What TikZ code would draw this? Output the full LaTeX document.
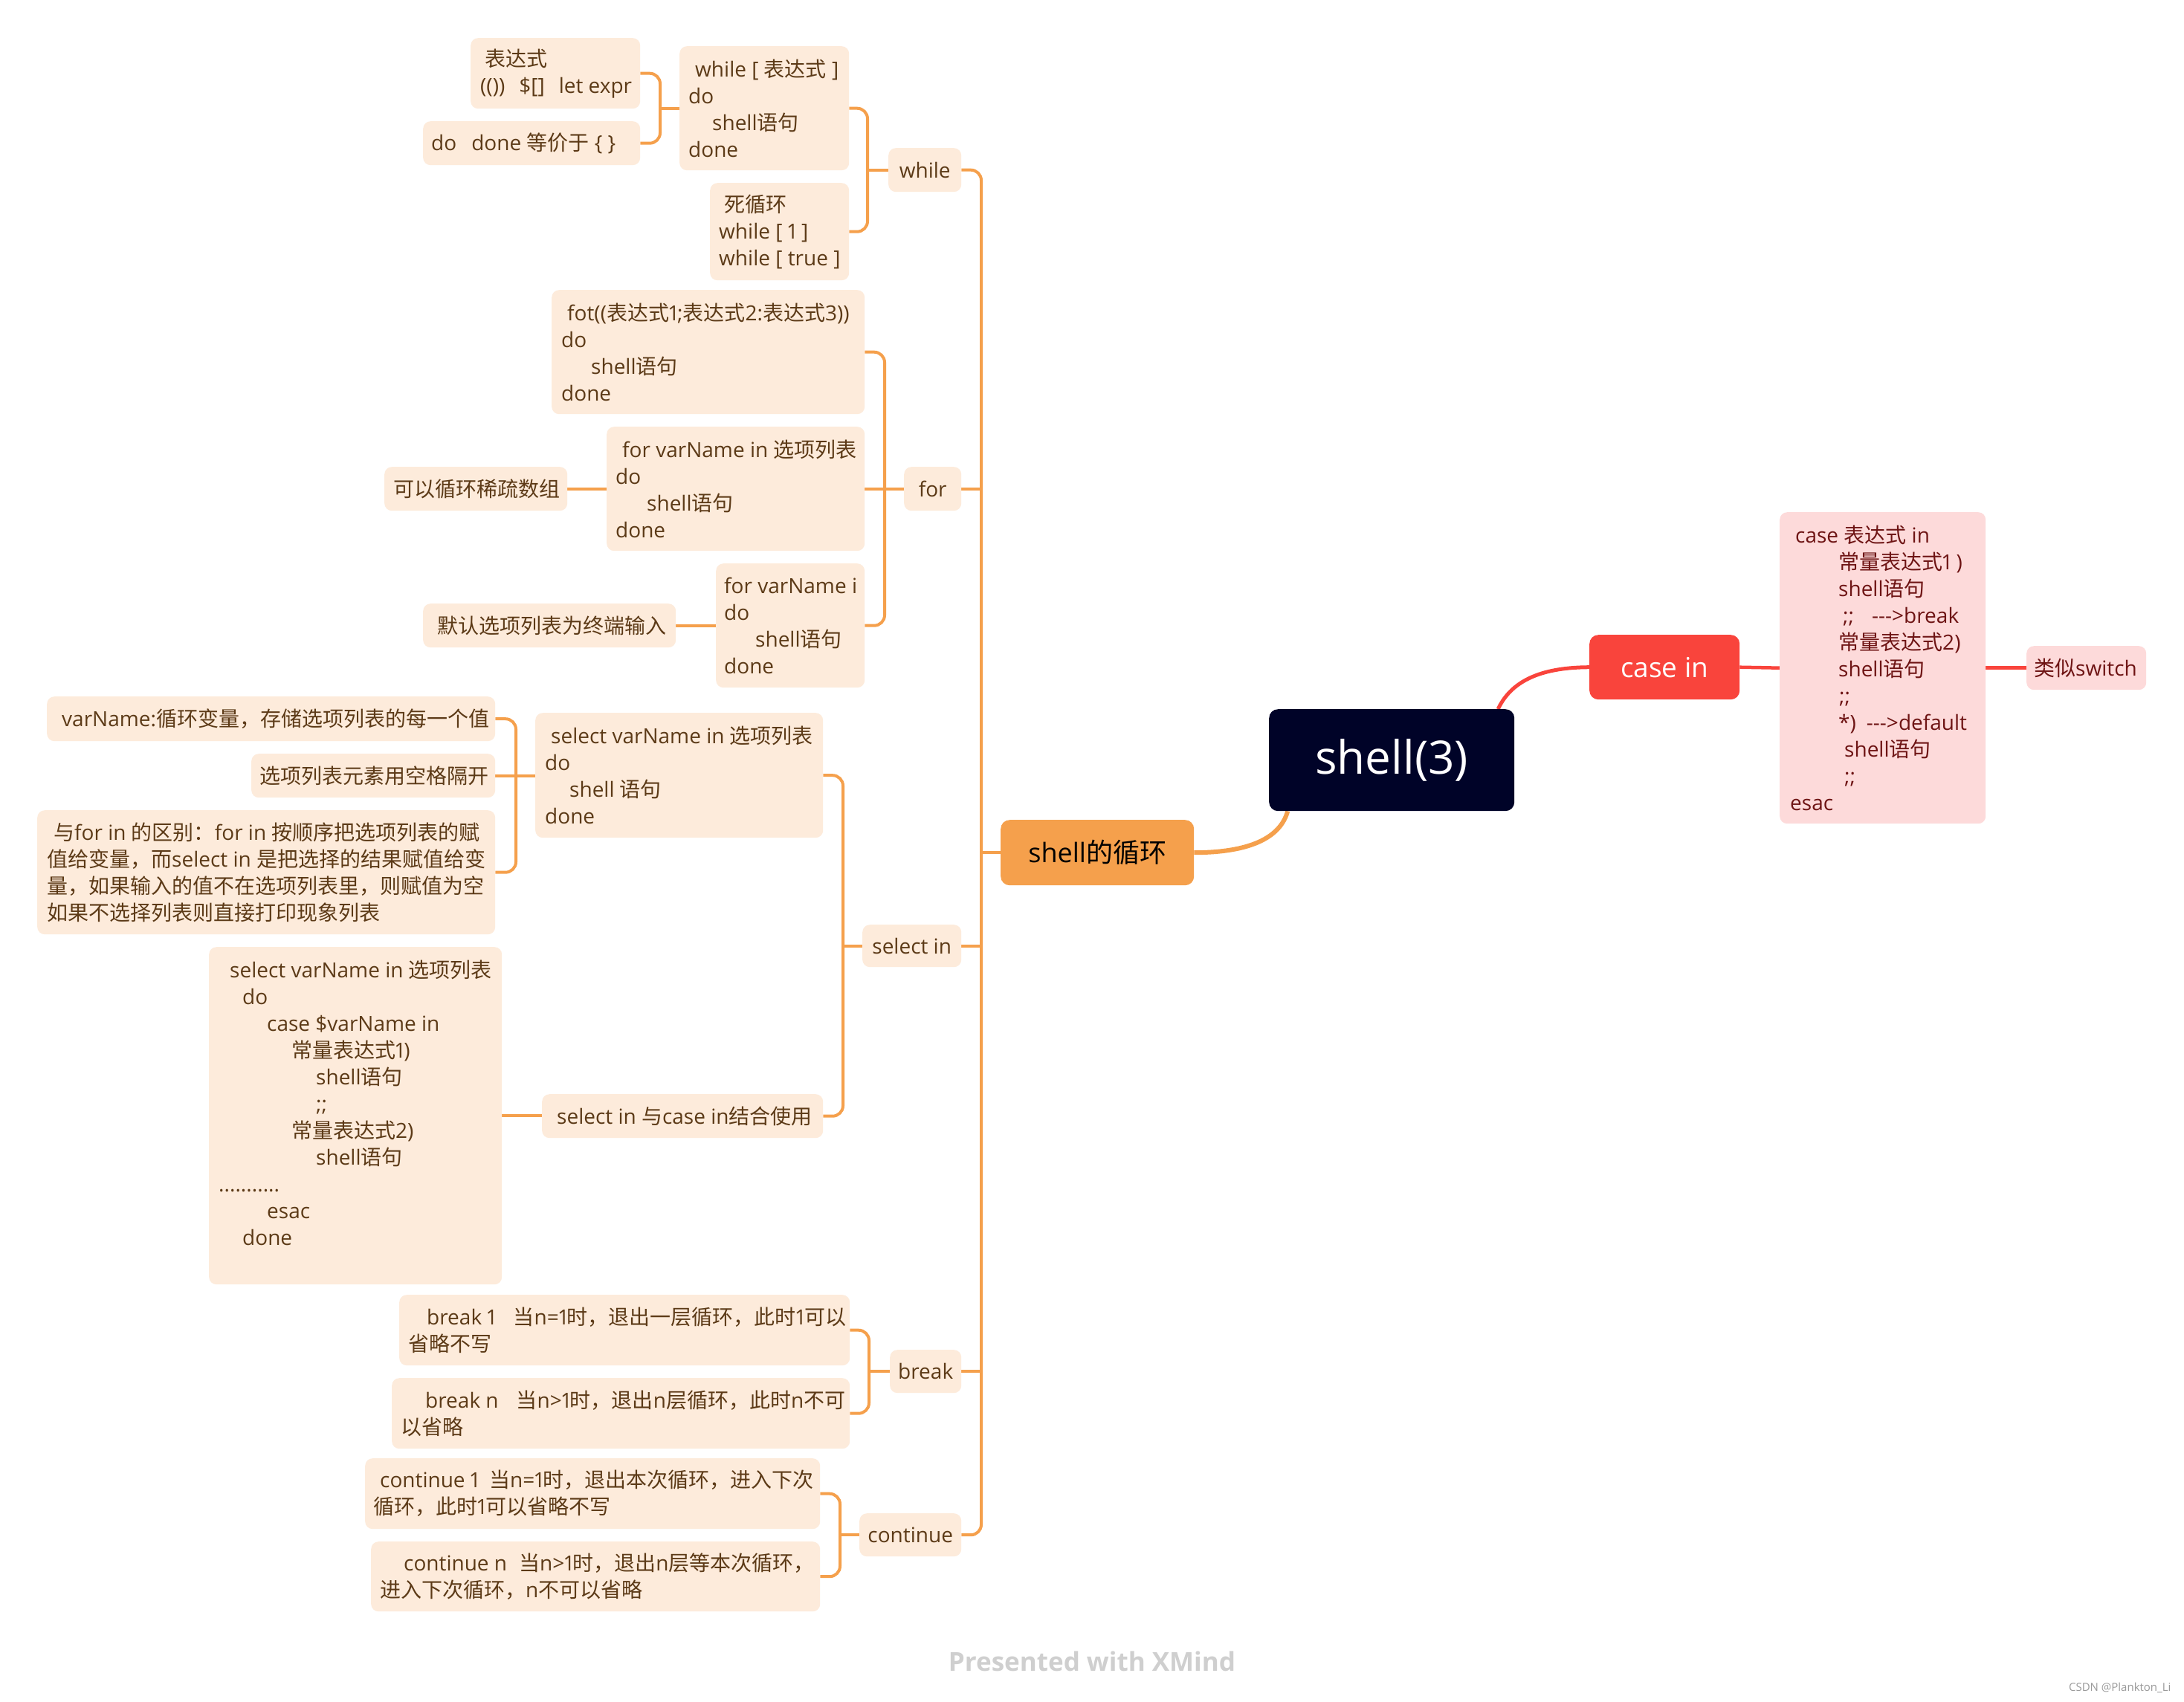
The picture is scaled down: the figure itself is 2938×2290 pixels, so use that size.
\documentclass[tikz,border=0pt]{standalone}
\usepackage{fontspec}
\setmainfont{Open Sans}[Numbers=Proportional]
\newfontfamily\cjkf{Noto Sans CJK SC}
\newfontfamily\latf{Open Sans}[Numbers=Proportional]
\XeTeXinterchartokenstate=1
\newXeTeXintercharclass\cjkclass
\count255="2E80
\loop\XeTeXcharclass\count255=\cjkclass\advance\count255 by 1 \ifnum\count255<"A000 \repeat
\count255="FF00
\loop\XeTeXcharclass\count255=\cjkclass\advance\count255 by 1 \ifnum\count255<"FFF0 \repeat
\XeTeXinterchartoks 0 \cjkclass = {\cjkf}
\XeTeXinterchartoks \cjkclass 0 = {\latf}
\XeTeXinterchartoks 4095 \cjkclass = {\cjkf}
\XeTeXinterchartoks \cjkclass 4095 = {\latf}
\usetikzlibrary{backgrounds}
\definecolor{bfill}{HTML}{FDEBDB}
\definecolor{btext}{HTML}{5C3A17}
\definecolor{ora}{HTML}{F5A04C}
\definecolor{redc}{HTML}{F9443C}
\definecolor{pfill}{HTML}{FDDADA}
\definecolor{ptext}{HTML}{6E1414}
\definecolor{navy}{HTML}{000328}
\definecolor{footgrey}{HTML}{CFCFCF}
\definecolor{csdngrey}{HTML}{9A9A9A}
\begin{document}
\begin{tikzpicture}[x=1pt,y=-1pt,
  box/.style={fill=bfill, rounded corners=10pt, inner sep=0pt, anchor=north west},
  pbox/.style={box, fill=pfill},
  sz/.style 2 args={minimum width=#1pt, minimum height=#2pt},
  txt/.style={anchor=west, align=left, inner sep=0pt, text=btext, font=\fontsize{28}{36}\selectfont},
  ptxt/.style={txt, text=ptext},
  topic/.style={box, text=btext, font=\fontsize{28}{36}\selectfont},
  conn/.style={draw=ora, line width=4pt, rounded corners=14pt},
  redconn/.style={draw=redc, line width=4.5pt},
  bigconn/.style={draw=ora, line width=6pt},
  bigred/.style={draw=redc, line width=5pt}]
\useasboundingbox (0,0) rectangle (2938,2290);

% main topics
\node[box, fill=navy, rounded corners=12pt, sz={330}{137}, text=white, font=\fontsize{62}{70}\selectfont] (root) at (1707,954) {shell(3)};
\node[box, fill=ora, rounded corners=12pt, sz={260}{88}, text=black, font=\fontsize{36}{42}\selectfont] (loop) at (1346,1103) {shell的循环};
\node[box, fill=redc, rounded corners=12pt, sz={202}{87}, text=white, font=\fontsize{37}{42}\selectfont] (ci) at (2138,854) {case in};

% level 2
\node[topic, sz={98}{59}] (w0) at (1195,199) {while};
\node[topic, sz={77}{59}] (f0) at (1216,628) {for};
\node[topic, sz={133}{57}] (s0) at (1160,1244) {select in};
\node[topic, sz={96}{58}] (b0) at (1197,1816) {break};
\node[topic, sz={137}{58}] (c0) at (1156,2036) {continue};

% while children
\node[box, sz={228}{167}] (w1) at (914,62) {};
\node[txt] (w1t) at ([xshift=12pt]w1.west) {\hspace*{9pt}while [ 表达式 ]\\do\\\hspace*{32pt}shell语句\\done};
\node[box, sz={187}{131}] (w2) at (955,246) {};
\node[txt] (w2t) at ([xshift=12pt]w2.west) {\hspace*{7pt}死循环\\while [ 1 ]\\while [ true ]};
\node[box, sz={228}{95}] (w11) at (633,51) {};
\node[txt] (w11t) at ([xshift=13pt]w11.west) {\hspace*{6pt}表达式\\(())\hspace{19pt}\$[]\hspace{19pt}let expr};
\node[box, sz={292}{59}] (w12) at (569,163) {};
\node[txt] (w12t) at ([xshift=11pt]w12.west) {do\hspace{20pt}done 等价于 \{ \}};

% for children
\node[box, sz={421}{167}] (f1) at (742,390) {};
\node[txt] (f1t) at ([xshift=13pt]f1.west) {\hspace*{8pt}fot((表达式1;表达式2:表达式3))\\do\\\hspace*{40pt}shell语句\\done};
\node[box, sz={347}{167}] (f2) at (816,574) {};
\node[txt] (f2t) at ([xshift=12pt]f2.west) {\hspace*{9pt}for varName in 选项列表\\do\\\hspace*{42pt}shell语句\\done};
\node[box, sz={246}{59}] (f21) at (517,628) {};
\node[txt] (f21t) at ([xshift=12pt]f21.west) {可以循环稀疏数组};
\node[box, sz={200}{167}] (f3) at (963,758) {};
\node[txt] (f3t) at ([xshift=11pt]f3.west) {for varName i\\do\\\hspace*{42pt}shell语句\\done};
\node[box, sz={340}{59}] (f31) at (569,812) {};
\node[txt] (f31t) at ([xshift=19pt]f31.west) {默认选项列表为终端输入};

% select children
\node[box, sz={387}{168}] (s1) at (720,959) {};
\node[txt] (s1t) at ([xshift=13pt]s1.west) {\hspace*{8pt}select varName in 选项列表\\do\\\hspace*{33pt}shell 语句\\done};
\node[box, sz={603}{60}] (s11) at (63,937) {};
\node[txt] (s11t) at ([xshift=20pt]s11.west) {varName:循环变量，存储选项列表的每一个值};
\node[box, sz={328}{59}] (s12) at (338,1014) {};
\node[txt] (s12t) at ([xshift=11pt]s12.west) {选项列表元素用空格隔开};
\node[box, sz={616}{167}] (s13) at (50,1090) {};
\node[txt] (s13t) at ([xshift=13pt]s13.west) {\hspace*{9pt}与for in 的区别：for in 按顺序把选项列表的赋\\值给变量，而select in 是把选择的结果赋值给变\\量，如果输入的值不在选项列表里，则赋值为空\\如果不选择列表则直接打印现象列表};
\node[box, sz={378}{59}] (s2) at (729,1472) {};
\node[txt] (s2t) at ([xshift=20pt]s2.west) {select in 与case in结合使用};
\node[box, sz={394}{454}] (s21) at (281,1274) {};
\node[txt, anchor=north west] (s21t) at ([xshift=13pt,yshift=-18pt]s21.north west) {\hspace*{15pt}select varName in 选项列表\\\hspace*{32pt}do\\\hspace*{65pt}case \$varName in\\\hspace*{98pt}常量表达式1)\\\hspace*{131pt}shell语句\\\hspace*{131pt};;\\\hspace*{98pt}常量表达式2)\\\hspace*{131pt}shell语句\\...........\\\hspace*{65pt}esac\\\hspace*{32pt}done};

% break children
\node[box, sz={606}{95}] (b1) at (537,1742) {};
\node[txt] (b1t) at ([xshift=12pt]b1.west) {\hspace*{25pt}break 1\hspace{24pt}当n=1时，退出一层循环，此时1可以\\省略不写};
\node[box, sz={616}{95}] (b2) at (527,1854) {};
\node[txt] (b2t) at ([xshift=12pt]b2.west) {\hspace*{33pt}break n\hspace{24pt}当n>1时，退出n层循环，此时n不可\\以省略};

% continue children
\node[box, sz={612}{95}] (c1) at (491,1962) {};
\node[txt] (c1t) at ([xshift=11pt]c1.west) {\hspace*{9pt}continue 1\hspace{14pt}当n=1时，退出本次循环，进入下次\\循环，此时1可以省略不写};
\node[box, sz={604}{94}] (c2) at (499,2074) {};
\node[txt] (c2t) at ([xshift=12pt]c2.west) {\hspace*{32pt}continue n\hspace{16pt}当n>1时，退出n层等本次循环，\\进入下次循环，n不可以省略};

% case in children
\node[pbox, sz={277}{419}] (cb) at (2394,689) {};
\node[ptxt] (cbt) at ([xshift=12pt]cb.west) {\hspace*{9pt}case 表达式 in\\\hspace*{67pt}常量表达式1 )\\\hspace*{67pt}shell语句\\\hspace*{73pt};;\hspace{24pt}-{}-{}->break\\\hspace*{67pt}常量表达式2)\\\hspace*{67pt}shell语句\\\hspace*{68pt};;\\\hspace*{67pt}*)\hspace{14pt}-{}-{}->default\\\hspace*{75pt}shell语句\\\hspace*{75pt};;\\\hspace*{2pt}esac};
\node[pbox, sz={161}{59}] (cs) at (2726,869) {};
\node[ptxt] (cst) at ([xshift=10pt]cs.west) {类似switch};

% footer
\node[font=\fontsize{35}{40}\selectfont\bfseries, text=footgrey] (foot) at (1469,2235) {Presented with XMind};
\node[font=\fontsize{15}{18}\selectfont, text=csdngrey, anchor=east] (csdn) at (2924,2271) {CSDN @Plankton\_Li};

\begin{scope}[on background layer]
\fill[white] (0,0) rectangle (2938,2290);
\draw[bigred] ([xshift=143pt]root.north) .. controls (2035,912) and (2080,898) .. (ci.west);
\draw[bigconn] ([xshift=-140pt]root.south) .. controls (1722,1128) and (1680,1147) .. (loop.east);
\draw[redconn] (ci.east) -- (cb.west);
\draw[redconn] (cb.east) -- (cs.west);
% trunk
\coordinate (tr) at ([xshift=-26pt]loop.west);
\draw[conn] (w0.east) -| (tr) |- (c0.east);
\draw[conn] (loop.west) -- (tr);
\draw[conn] (f0.east) -- (f0.east -| tr);
\draw[conn] (s0.east) -- (s0.east -| tr);
\draw[conn] (b0.east) -- (b0.east -| tr);
% while
\coordinate (wb) at ([xshift=-28pt]w0.west);
\draw[conn] (w1.east) -| (wb) |- (w2.east);
\draw[conn] (w0.west) -- (wb);
\coordinate (w1b) at ([xshift=-26pt]w1.west);
\draw[conn] (w11.east) -| (w1b) |- (w12.east);
\draw[conn] (w1.west) -- (w1b);
% for
\coordinate (fb) at ([xshift=-26pt]f0.west);
\draw[conn] (f1.east) -| (fb) |- (f3.east);
\draw[conn] (f0.west) -- (fb);
\draw[conn] (f2.east) -- (f2.east -| fb);
\draw[conn] (f21.east) -- (f21.east -| f2.west);
\draw[conn] (f31.east) -- (f31.east -| f3.west);
% select
\coordinate (sb) at ([xshift=-26pt]s0.west);
\draw[conn] (s1.east) -| (sb) |- (s2.east);
\draw[conn] (s0.west) -- (sb);
\coordinate (s1b) at ([xshift=-26pt]s1.west);
\draw[conn] (s11.east) -| (s1b) |- (s13.east);
\draw[conn] (s12.east) -- (s12.east -| s1.west);
\draw[conn] (s21.east) -- (s21.east -| s2.west);
% break
\coordinate (bb) at ([xshift=-28pt]b0.west);
\draw[conn] (b1.east) -| (bb) |- (b2.east);
\draw[conn] (b0.west) -- (bb);
% continue
\coordinate (cc) at ([xshift=-26pt]c0.west);
\draw[conn] (c1.east) -| (cc) |- (c2.east);
\draw[conn] (c0.west) -- (cc);
\end{scope}
\end{tikzpicture}
\end{document}
